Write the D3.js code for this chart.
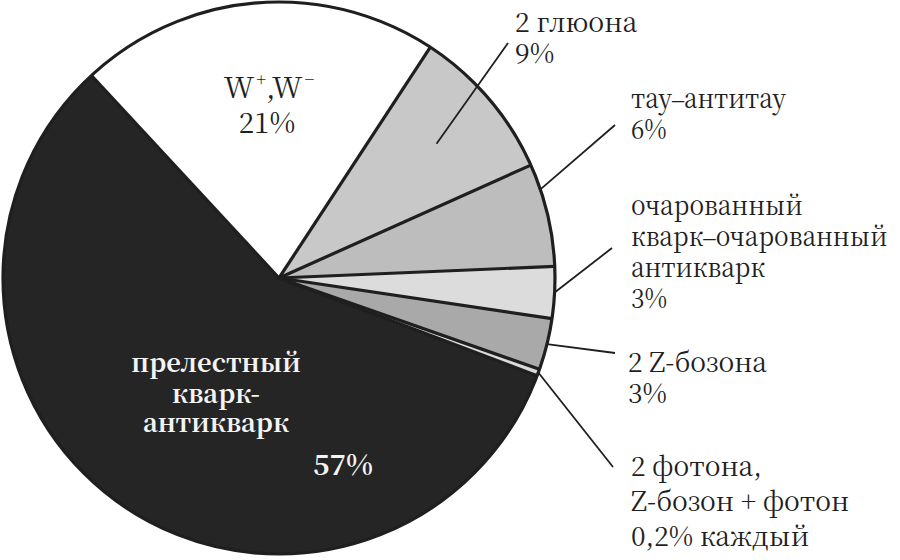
<!DOCTYPE html>
<html><head><meta charset="utf-8">
<script src="https://cdn.jsdelivr.net/npm/d3@7"></script>
<style>body{margin:0;background:#fff}svg{display:block}</style>
</head><body>
<svg id="chart" width="900" height="560"></svg>
<script>
// ---- data ----
const categories = ["W+W-", "2 глюона", "тау–антитау", "очарованный кварк–очарованный антикварк", "2 Z-бозона", "2 фотона", "Z-бозон + фотон", "прелестный кварк-антикварк"];
const shares = [21, 9, 6, 3, 3, 0.2, 0.2, 57];
const percentLabels = ["21%", "9%", "6%", "3%", "3%", "0,2%", "0,2%", "57%"];
const outsideLabelLines = [
  null,
  ["2 глюона", "9%"],
  ["тау–антитау", "6%"],
  ["очарованный", "кварк–очарованный", "антикварк", "3%"],
  ["2 Z-бозона", "3%"],
  ["2 фотона,", "Z-бозон + фотон", "0,2% каждый"],
  null,
  null
];
const insideBLines = ["прелестный", "кварк-", "антикварк"];

// ---- styles / layout ----
const fills = ["#ffffff", "#c8c8c8", "#bdbdbd", "#dcdcdc", "#a9a9a9", "#d6d6d6", "#d6d6d6", "#252525"];
const cx = 279, cy = 278, R = 276;
const startDeg = -42.8;
const FONT = "'Noto Serif CJK SC','Noto Serif CJK JP','DejaVu Serif',serif";
const DASHFONT = "'Liberation Serif','Noto Serif CJK SC',serif";
const ink = "#1f1f1f";

const svg = d3.select("#chart");
const g = svg.append("g").attr("transform", `translate(${cx},${cy})`);

const pie = d3.pie().sort(null).value(d => d)
  .startAngle(startDeg * Math.PI / 180)
  .endAngle((startDeg + 360) * Math.PI / 180);
const arcs = pie(shares);
const arc = d3.arc().innerRadius(0).outerRadius(R);

g.selectAll("path.slice").data(arcs).join("path")
  .attr("class", "slice")
  .attr("d", arc)
  .attr("fill", (d, i) => fills[i]);

const polar = (a, r) => [r * Math.sin(a), -r * Math.cos(a)];

arcs.forEach((d, i) => {
  if (i === 6) return;
  const p = polar(d.startAngle, R);
  g.append("line").attr("x1", 0).attr("y1", 0).attr("x2", p[0]).attr("y2", p[1])
    .attr("stroke", ink).attr("stroke-width", 3.2);
});
g.append("circle").attr("r", R).attr("fill", "none").attr("stroke", ink).attr("stroke-width", 3.2);

// leaders: [slice index, fraction in slice, radius factor, end x, end y]
const leaders = [
  [1, 0.5, 0.75, 508, 43],
  [2, 0.25, 1.0, 615, 125],
  [3, 0.5, 1.0, 612, 248],
  [4, 0.5, 1.0, 615, 353],
  [5, 1.0, 1.0, 613, 467]
];
leaders.forEach(([i, t, rf, ex, ey]) => {
  const d = arcs[i];
  const a = d.startAngle + t * (d.endAngle - d.startAngle);
  const p = polar(a, R * rf);
  svg.append("line").attr("x1", cx + p[0]).attr("y1", cy + p[1]).attr("x2", ex).attr("y2", ey)
    .attr("stroke", ink).attr("stroke-width", 1.8);
});

// write one line, giving the en dash a narrow serif glyph
function writeLine(text, s, y) {
  const parts = s.split("–");
  parts.forEach((p, k) => {
    const ts = text.append("tspan").text(p);
    if (k === 0) ts.attr("x", 0).attr("y", y);
    if (k < parts.length - 1) text.append("tspan").style("font-family", DASHFONT).text("–");
  });
}

// outside labels: [slice index, x, first baseline, line step, horizontal squeeze]
const labelPos = [
  [1, 515, 32, 31, 0.99],
  [2, 631, 108, 31, 0.9],
  [3, 631, 215, 31, 0.91],
  [4, 628, 372, 31, 0.98],
  [5, 631, 476, 35, 0.98]
];
labelPos.forEach(([i, x, y, step, sq]) => {
  const t = svg.append("text").attr("transform", `translate(${x},${y}) scale(${sq},1)`)
    .style("font-family", FONT).attr("font-size", 27).attr("fill", ink);
  outsideLabelLines[i].forEach((s, k) => writeLine(t, s, k * step));
});

// W label
const wt = svg.append("text").attr("x", 269).attr("y", 98).attr("text-anchor", "middle")
  .style("font-family", FONT).attr("font-size", 29).attr("fill", ink);
wt.append("tspan").text("W");
wt.append("tspan").attr("font-size", 17).attr("dy", -12).attr("dx", 2).text("+");
wt.append("tspan").attr("dy", 12).text(",W");
wt.append("tspan").attr("font-size", 17).attr("dy", -12).attr("dx", 2).text("−");
svg.append("text").attr("x", 267).attr("y", 133).attr("text-anchor", "middle")
  .style("font-family", FONT).attr("font-size", 28).attr("fill", ink).text(percentLabels[0]);

// b label
const bt = svg.append("text").attr("text-anchor", "middle")
  .attr("transform", "translate(216,0) scale(0.96,1)")
  .style("font-family", FONT).attr("font-size", 26.5).attr("font-weight", "bold").attr("fill", "#f4f4f4");
const bBase = [372, 403, 432];
insideBLines.forEach((s, k) => bt.append("tspan").attr("x", 0).attr("y", bBase[k]).text(s));
svg.append("text").attr("x", 343).attr("y", 475).attr("text-anchor", "middle")
  .style("font-family", FONT).attr("font-size", 28).attr("font-weight", "bold").attr("fill", "#f4f4f4")
  .text(percentLabels[7]);
</script>
</body></html>
